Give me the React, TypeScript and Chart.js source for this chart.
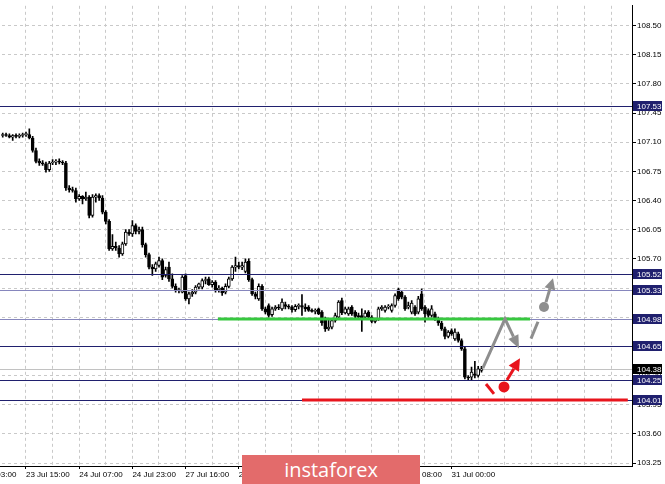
import React, { useEffect, useRef } from 'react';
import { Chart, registerables } from 'chart.js';

Chart.register(...registerables);

// ---------- DATA ----------
const FIRST_BAR = -7; // bar index of first candle (23 Jul 15:00 = bar 0)

const opens = [
  107.18, 107.19, 107.18, 107.16, 107.18, 107.17, 107.18, 107.19, 107.19, 107.15,
  107.00, 106.87, 106.85, 106.84, 106.77, 106.85, 106.86, 106.87, 106.86, 106.85,
  106.55, 106.53, 106.52, 106.42, 106.45, 106.42, 106.44, 106.22, 106.44, 106.46,
  106.43, 106.26, 106.15, 105.82, 105.85, 105.83, 105.76, 105.88, 106.02, 106.00,
  106.10, 106.03, 106.05, 105.87, 105.75, 105.60, 105.58, 105.62, 105.68, 105.50,
  105.60, 105.46, 105.37, 105.32, 105.30, 105.50, 105.22, 105.28, 105.30, 105.36,
  105.36, 105.44, 105.46, 105.39, 105.42, 105.33, 105.35, 105.30, 105.37, 105.46,
  105.60, 105.62, 105.60, 105.55, 105.67, 105.45, 105.28, 105.22, 105.37, 105.10,
  105.14, 105.03, 105.10, 105.12, 105.10, 105.15, 105.13, 105.12, 105.09, 105.13,
  105.14, 105.12, 105.12, 105.08, 105.07, 105.10, 105.06, 104.98, 104.86, 104.88,
  104.96, 105.00, 105.20, 105.05, 105.04, 105.12, 105.06, 105.02, 105.02, 105.00,
  105.06, 105.00, 104.95, 104.98, 105.10, 105.08, 105.12, 105.08, 105.14, 105.33,
  105.30, 105.24, 105.12, 105.06, 105.12, 105.06, 105.28, 105.12, 105.08, 105.02,
  105.04, 104.98, 104.93, 104.86, 104.77, 104.84, 104.74, 104.80, 104.72, 104.62,
  104.28, 104.28, 104.32, 104.30, 104.36,
];
const highs = [
  107.21, 107.21, 107.20, 107.19, 107.20, 107.20, 107.21, 107.22, 107.26, 107.17,
  107.03, 106.90, 106.88, 106.86, 106.87, 106.89, 106.89, 106.90, 106.88, 106.87,
  106.58, 106.56, 106.55, 106.47, 106.46, 106.50, 106.46, 106.47, 106.48, 106.48,
  106.46, 106.28, 106.17, 105.99, 105.90, 105.86, 105.90, 106.05, 106.05, 106.16,
  106.12, 106.08, 106.08, 105.89, 105.77, 105.63, 105.66, 105.72, 105.70, 105.60,
  105.66, 105.52, 105.40, 105.35, 105.50, 105.52, 105.30, 105.33, 105.38, 105.41,
  105.46, 105.48, 105.48, 105.44, 105.44, 105.38, 105.36, 105.40, 105.48, 105.62,
  105.72, 105.66, 105.66, 105.70, 105.70, 105.47, 105.30, 105.40, 105.39, 105.12,
  105.16, 105.12, 105.14, 105.15, 105.22, 105.18, 105.15, 105.14, 105.15, 105.16,
  105.27, 105.16, 105.14, 105.10, 105.10, 105.11, 105.08, 105.00, 104.97, 104.98,
  105.05, 105.20, 105.23, 105.12, 105.12, 105.14, 105.08, 105.05, 105.10, 105.08,
  105.08, 105.02, 104.98, 105.12, 105.14, 105.14, 105.15, 105.16, 105.28, 105.35,
  105.32, 105.26, 105.18, 105.20, 105.14, 105.25, 105.34, 105.14, 105.10, 105.14,
  105.06, 105.00, 104.95, 104.88, 104.84, 104.86, 104.86, 104.82, 104.74, 104.64,
  104.30, 104.40, 104.47, 104.41, 104.41,
];
const lows = [
  107.16, 107.17, 107.15, 107.12, 107.15, 107.15, 107.16, 107.17, 107.14, 106.98,
  106.85, 106.82, 106.82, 106.74, 106.75, 106.83, 106.83, 106.84, 106.83, 106.52,
  106.50, 106.50, 106.38, 106.40, 106.36, 106.40, 106.19, 106.20, 106.38, 106.40,
  106.24, 106.12, 105.80, 105.80, 105.80, 105.72, 105.74, 105.86, 105.98, 105.97,
  106.00, 106.00, 105.84, 105.72, 105.58, 105.50, 105.55, 105.60, 105.45, 105.48,
  105.43, 105.35, 105.30, 105.29, 105.29, 105.20, 105.16, 105.25, 105.28, 105.34,
  105.34, 105.40, 105.38, 105.36, 105.30, 105.30, 105.26, 105.28, 105.35, 105.44,
  105.55, 105.58, 105.57, 105.53, 105.43, 105.26, 105.22, 105.20, 105.08, 105.04,
  105.00, 105.01, 105.08, 105.09, 105.08, 105.10, 105.10, 105.06, 105.07, 105.10,
  105.02, 105.07, 105.07, 105.06, 105.04, 105.03, 104.90, 104.83, 104.84, 104.86,
  104.94, 104.98, 105.03, 105.04, 105.02, 105.02, 104.99, 104.97, 104.83, 104.98,
  104.98, 104.93, 104.93, 104.96, 105.08, 105.06, 105.10, 105.06, 105.12, 105.20,
  105.22, 105.08, 105.10, 105.04, 105.02, 105.04, 105.08, 104.94, 105.00, 105.00,
  104.96, 104.90, 104.84, 104.74, 104.75, 104.78, 104.72, 104.70, 104.60, 104.26,
  104.24, 104.25, 104.27, 104.28, 104.34,
];
const closes = [
  107.19, 107.18, 107.16, 107.18, 107.17, 107.18, 107.19, 107.20, 107.15, 107.00,
  106.87, 106.85, 106.84, 106.77, 106.85, 106.86, 106.87, 106.86, 106.85, 106.55,
  106.53, 106.52, 106.42, 106.45, 106.42, 106.44, 106.22, 106.44, 106.46, 106.43,
  106.26, 106.15, 105.82, 105.85, 105.83, 105.76, 105.88, 106.02, 106.00, 106.10,
  106.03, 106.05, 105.87, 105.75, 105.60, 105.58, 105.64, 105.68, 105.48, 105.57,
  105.46, 105.37, 105.32, 105.33, 105.48, 105.22, 105.28, 105.30, 105.36, 105.40,
  105.44, 105.45, 105.39, 105.42, 105.33, 105.35, 105.29, 105.37, 105.46, 105.60,
  105.62, 105.60, 105.62, 105.66, 105.45, 105.28, 105.25, 105.37, 105.10, 105.06,
  105.02, 105.10, 105.12, 105.11, 105.18, 105.13, 105.12, 105.09, 105.13, 105.14,
  105.12, 105.10, 105.08, 105.07, 105.08, 105.04, 104.93, 104.86, 104.88, 104.96,
  105.02, 105.18, 105.05, 105.10, 105.10, 105.04, 105.01, 105.00, 104.99, 105.05,
  105.00, 104.95, 104.97, 105.10, 105.12, 105.12, 105.13, 105.14, 105.26, 105.22,
  105.24, 105.10, 105.14, 105.17, 105.04, 105.22, 105.10, 105.04, 105.02, 105.10,
  104.98, 104.93, 104.86, 104.77, 104.82, 104.80, 104.82, 104.72, 104.62, 104.28,
  104.27, 104.34, 104.30, 104.38, 104.38,
];

const timeTickBars = [-16, 0, 16, 32, 48, 64, 80, 96, 112, 128];
const timeTickLabels = [
  '23 Jul 03:00', '23 Jul 15:00', '24 Jul 07:00', '24 Jul 23:00', '27 Jul 16:00',
  '28 Jul 08:00', '29 Jul 00:00', '29 Jul 16:00', '30 Jul 08:00', '31 Jul 00:00',
];
const gridBars = [-16, -8, 0, 8, 16, 24, 32, 40, 48, 56, 64, 72, 80, 88, 96, 104, 112, 120, 128, 136, 144, 152, 160, 168, 176];
const priceTicks = [108.5, 108.15, 107.8, 107.45, 107.1, 106.75, 106.4, 106.05, 105.7, 105.35, 105.0, 104.65, 104.3, 103.95, 103.6, 103.25];

const levelPrices = [107.53, 105.52, 105.33, 104.98, 104.65, 104.25, 104.01];
const bidPrice = 104.38;

const greenLevel = 104.98;
const greenSpan = [57.7, 151.6];
const redLevel = 104.01;
const redSpan = [83.0, 181.0];

// projection scenario points: [bar, price]
const bullZigzag = [[137.4, 104.39], [144.06, 104.98], [148.27, 104.625]];
const bullDash = [[151.88, 104.743], [153.98, 104.945]];
const bullDot = [155.79, 105.122];
const bullArrow = [[156.39, 105.18], [158.5, 105.466]];
const bearDash = [[138.35, 104.198], [140.75, 104.08]];
const bearDot = [143.76, 104.163];
const bearArrow = [[144.66, 104.245], [148.57, 104.506]];

// ---------- VIEW ----------
const X_MIN = -19.85;
const X_MAX = 182.26;
const Y_MIN = 103.214;
const Y_MAX = 108.737;

const NAVY = '#20206e';
const LIGHT_NAVY = '#8686bd';
const levelLineColor = (p: number) => (p === 105.33 || p === 104.98 ? LIGHT_NAVY : NAVY);
const GRAY = '#8e8e8e';
const RED = '#e8141c';
const GREEN = '#36c83f';
const FONT = 'Liberation Sans';

function arrowTo(ctx: any, pts: number[][], color: string, w: number, headLen: number, headW: number) {
  const n = pts.length;
  const [x2, y2] = pts[n - 1];
  const [x1, y1] = pts[n - 2];
  const ang = Math.atan2(y2 - y1, x2 - x1);
  const bx = x2 - headLen * Math.cos(ang);
  const by = y2 - headLen * Math.sin(ang);
  ctx.strokeStyle = color;
  ctx.lineWidth = w;
  ctx.lineJoin = 'miter';
  ctx.lineCap = 'butt';
  ctx.beginPath();
  ctx.moveTo(pts[0][0], pts[0][1]);
  for (let i = 1; i < n - 1; i++) ctx.lineTo(pts[i][0], pts[i][1]);
  ctx.lineTo(bx, by);
  ctx.stroke();
  ctx.fillStyle = color;
  ctx.beginPath();
  ctx.moveTo(x2, y2);
  ctx.lineTo(bx + headW * Math.sin(ang), by - headW * Math.cos(ang));
  ctx.lineTo(bx - headW * Math.sin(ang), by + headW * Math.cos(ang));
  ctx.closePath();
  ctx.fill();
}

const overlayPlugin = {
  id: 'overlay',
  beforeDatasetsDraw(chart: any) {
    const { ctx, chartArea: a, scales } = chart;
    ctx.save();
    ctx.beginPath();
    ctx.rect(a.left, a.top, a.right - a.left, a.bottom - a.top);
    ctx.clip();
    const y = Math.round(scales.y.getPixelForValue(bidPrice)) + 0.5;
    ctx.strokeStyle = '#c2c2c2';
    ctx.lineWidth = 1;
    ctx.beginPath();
    ctx.moveTo(a.left, y);
    ctx.lineTo(a.right, y);
    ctx.stroke();
    ctx.restore();
  },
  afterDatasetsDraw(chart: any) {
    const { ctx, chartArea: a, scales } = chart;
    const xs = scales.x;
    const ys = scales.y;
    const P = (p: number[]) => [xs.getPixelForValue(p[0]), ys.getPixelForValue(p[1])];
    ctx.save();
    ctx.beginPath();
    ctx.rect(a.left, a.top, a.right - a.left, a.bottom - a.top);
    ctx.clip();
    // level lines
    for (const p of levelPrices) {
      const y = Math.round(ys.getPixelForValue(p)) + 0.5;
      ctx.strokeStyle = levelLineColor(p);
      ctx.lineWidth = 1;
      ctx.beginPath();
      ctx.moveTo(a.left, y);
      ctx.lineTo(a.right, y);
      ctx.stroke();
    }
    // green support / resistance
    ctx.lineWidth = 3;
    ctx.strokeStyle = GREEN;
    let gy = Math.round(ys.getPixelForValue(greenLevel));
    ctx.beginPath();
    ctx.moveTo(xs.getPixelForValue(greenSpan[0]), gy);
    ctx.lineTo(xs.getPixelForValue(greenSpan[1]), gy);
    ctx.stroke();
    // red level
    ctx.strokeStyle = RED;
    const ry = Math.round(ys.getPixelForValue(redLevel));
    ctx.beginPath();
    ctx.moveTo(xs.getPixelForValue(redSpan[0]), ry);
    ctx.lineTo(xs.getPixelForValue(redSpan[1]), ry);
    ctx.stroke();

    // bullish scenario (gray)
    arrowTo(ctx, bullZigzag.map(P), GRAY, 3, 13, 5.5);
    ctx.strokeStyle = GRAY;
    ctx.lineWidth = 3;
    const bd = bullDash.map(P);
    ctx.beginPath();
    ctx.moveTo(bd[0][0], bd[0][1]);
    ctx.lineTo(bd[1][0], bd[1][1]);
    ctx.stroke();
    const bdot = P(bullDot);
    ctx.fillStyle = GRAY;
    ctx.beginPath();
    ctx.arc(bdot[0], bdot[1], 5, 0, Math.PI * 2);
    ctx.fill();
    arrowTo(ctx, bullArrow.map(P), GRAY, 3, 11, 5.5);

    // bearish-then-rebound scenario (red)
    ctx.strokeStyle = RED;
    ctx.lineWidth = 3;
    const rd = bearDash.map(P);
    ctx.beginPath();
    ctx.moveTo(rd[0][0], rd[0][1]);
    ctx.lineTo(rd[1][0], rd[1][1]);
    ctx.stroke();
    const rdot = P(bearDot);
    ctx.fillStyle = RED;
    ctx.beginPath();
    ctx.arc(rdot[0], rdot[1], 5.5, 0, Math.PI * 2);
    ctx.fill();
    arrowTo(ctx, bearArrow.map(P), RED, 3, 12, 6);
    ctx.restore();
  },
  afterDraw(chart: any) {
    const { ctx, chartArea: a, scales } = chart;
    const ys = scales.y;
    ctx.save();
    ctx.font = `8px "${FONT}"`;
    ctx.textBaseline = 'middle';
    ctx.textAlign = 'left';
    const box = (p: number, bg: string) => {
      const y = Math.round(ys.getPixelForValue(p));
      ctx.fillStyle = bg;
      ctx.fillRect(a.right + 1, y - 5, 29, 10);
      ctx.fillStyle = '#ffffff';
      ctx.fillText(p.toFixed(2), a.right + 5, y + 0.5);
    };
    box(bidPrice, '#000000');
    for (const p of levelPrices) box(p, NAVY);
    ctx.restore();
  },
};

export default function App() {
  const ref = useRef<HTMLCanvasElement>(null);
  useEffect(() => {
    const bars = opens.map((_, k) => FIRST_BAR + k);
    const labelFor = (v: number) => {
      const i = timeTickBars.indexOf(v);
      return i >= 0 ? timeTickLabels[i] : '';
    };
    const chart = new Chart(ref.current as HTMLCanvasElement, {
      type: 'bar',
      data: {
        datasets: [
          {
            label: 'body',
            order: 0,
            grouped: false,
            data: bars.map((b, k) => ({ x: b, y: [opens[k], closes[k]] })),
            backgroundColor: bars.map((_, k) => (closes[k] >= opens[k] ? '#ffffff' : '#000000')),
            borderColor: '#000000',
            borderWidth: 1,
            borderSkipped: false,
            barThickness: 3,
            minBarLength: 1,
          } as any,
          {
            label: 'wick',
            order: 1,
            grouped: false,
            data: bars.map((b, k) => ({ x: b, y: [lows[k], highs[k]] })),
            backgroundColor: '#000000',
            borderWidth: 0,
            barThickness: 1,
          } as any,
        ],
      },
      options: {
        animation: false,
        responsive: false,
        maintainAspectRatio: false,
        events: [],
        layout: { padding: 0 },
        plugins: {
          legend: { display: false },
          tooltip: { enabled: false },
          title: { display: false },
        },
        scales: {
          x: {
            type: 'linear',
            min: X_MIN,
            max: X_MAX,
            offset: false,
            grid: {
              offset: false,
              color: '#c9c9c9',
              lineWidth: 1,
              drawTicks: true,
              tickLength: 3,
              tickColor: (c: any) => (c.tick && timeTickBars.includes(c.tick.value) ? '#000000' : 'rgba(0,0,0,0)'),
            },
            border: { display: true, color: '#000000', width: 1, dash: [3, 3] },
            ticks: {
              autoSkip: false,
              maxRotation: 0,
              minRotation: 0,
              align: 'start',
              padding: 1,
              color: '#000000',
              font: { family: FONT, size: 8 },
              callback: (v: any) => labelFor(Number(v)),
            },
            afterBuildTicks: (s: any) => {
              s.ticks = gridBars.map((v) => ({ value: v }));
            },
            afterFit: (s: any) => {
              s.height = 18;
            },
          } as any,
          y: {
            type: 'linear',
            position: 'right',
            min: Y_MIN,
            max: Y_MAX,
            beginAtZero: false,
            grid: {
              color: '#c9c9c9',
              lineWidth: 1,
              tickLength: 4,
              tickColor: '#000000',
            },
            border: { display: true, color: '#000000', width: 1, dash: [3, 3] },
            ticks: {
              padding: 1,
              color: '#000000',
              font: { family: FONT, size: 8 },
              callback: (v: any) => Number(v).toFixed(2),
            },
            afterBuildTicks: (s: any) => {
              s.ticks = priceTicks.map((v) => ({ value: v }));
            },
            afterFit: (s: any) => {
              s.width = 33;
            },
          } as any,
        },
      },
      plugins: [overlayPlugin],
    } as any);
    return () => chart.destroy();
  }, []);

  return (
    <div style={{ position: 'fixed', left: 0, top: 0, width: 665, height: 484, overflow: 'hidden', background: '#ffffff' }}>
      <canvas
        ref={ref}
        width={705}
        height={484}
        style={{ position: 'absolute', left: -40, top: 0, width: 705, height: 484, display: 'block' }}
      />
      <div
        style={{
          position: 'absolute',
          left: 242,
          top: 455,
          width: 178,
          height: 29,
          background: '#e36b6b',
          color: '#ffffff',
          fontFamily: '"Open Sans", sans-serif',
          fontSize: 20,
          lineHeight: '29px',
          textAlign: 'center',
        }}
      >
        instaforex
      </div>
    </div>
  );
}
